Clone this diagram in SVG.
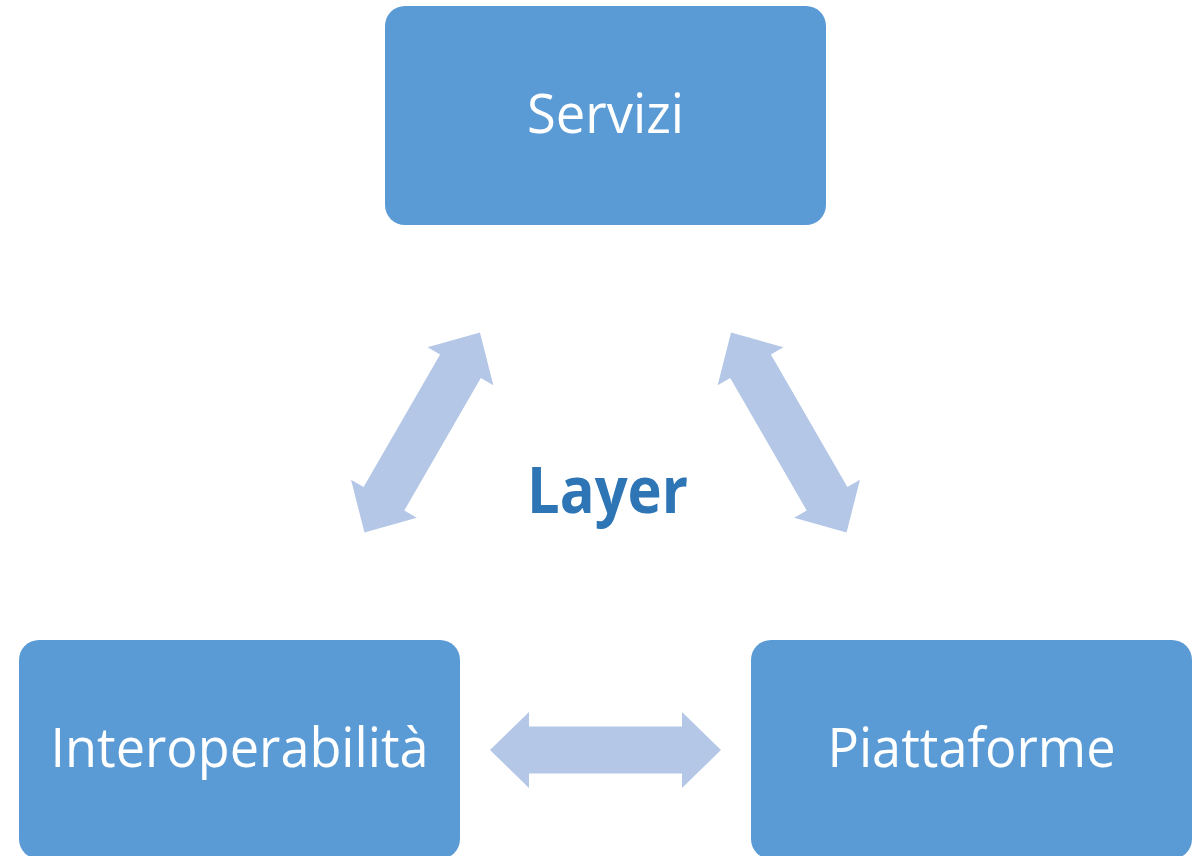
<svg xmlns="http://www.w3.org/2000/svg" width="1200" height="856" viewBox="0 0 1200 856">
  <style>
    .box { fill: #5B9BD5; }
    .lbl { font-family: "Open Sans", "Liberation Sans", sans-serif; font-size: 55px; fill: #FFFFFF; text-anchor: middle; }
    .arr { fill: #B4C7E7; }
    .center { font-family: "Open Sans", "Liberation Sans", sans-serif; font-size: 64px; font-weight: bold; fill: #2E75B6; text-anchor: middle; }
  </style>
  <defs>
    <path id="dblarrow" d="M -115.5 0 L -76.5 -38 L -76.5 -23.5 L 76.5 -23.5 L 76.5 -38 L 115.5 0 L 76.5 38 L 76.5 23.5 L -76.5 23.5 L -76.5 38 Z"/>
  </defs>
  <rect width="1200" height="856" fill="#FFFFFF"/>
  <g id="connectors">
    <use href="#dblarrow" class="arr" transform="translate(422.2 432.5) rotate(-60)"/>
    <use href="#dblarrow" class="arr" transform="translate(788.8 432.5) rotate(60)"/>
    <use href="#dblarrow" class="arr" transform="translate(605.5 750)"/>
  </g>
  <g id="servizi">
    <rect class="box" x="385" y="6" width="441" height="219" rx="20" ry="20"/>
    <text class="lbl" x="605.5" y="133" textLength="157" lengthAdjust="spacingAndGlyphs">Servizi</text>
  </g>
  <g id="interoperabilita">
    <rect class="box" x="19" y="640" width="441" height="219" rx="20" ry="20"/>
    <text class="lbl" x="239.5" y="767" textLength="378" lengthAdjust="spacingAndGlyphs">Interoperabilità</text>
  </g>
  <g id="piattaforme">
    <rect class="box" x="751" y="640" width="441" height="219" rx="20" ry="20"/>
    <text class="lbl" x="971.5" y="767" textLength="288" lengthAdjust="spacingAndGlyphs">Piattaforme</text>
  </g>
  <g id="layer">
    <text class="center" x="607.5" y="513" textLength="161" lengthAdjust="spacingAndGlyphs">Layer</text>
  </g>
</svg>
